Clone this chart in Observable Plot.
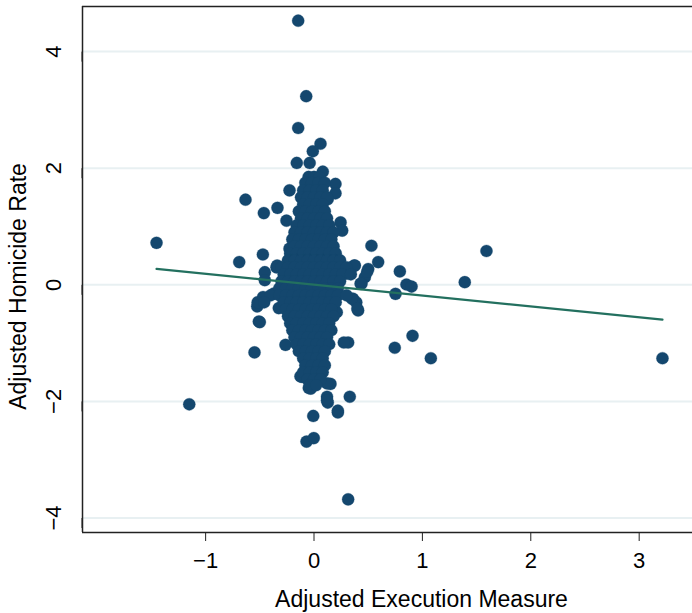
<!DOCTYPE html>
<html><head><meta charset="utf-8">
<script src="https://cdn.jsdelivr.net/npm/d3@7"></script>
<script src="https://cdn.jsdelivr.net/npm/@observablehq/plot@0.6"></script>
<style>body{margin:0;background:#fff} #chart{width:692px;height:613px}</style>
</head><body><div id="chart"></div>
<script>
const xTicks = [-1, 0, 1, 2, 3];
const yTicks = [-4, -2, 0, 2, 4];
const xDomain = [-2.136, 3.492];
const yDomain = [-4.249, 4.774];
const xTitle = "Adjusted Execution Measure";
const yTitle = "Adjusted Homicide Rate";
const fitIntercept = 0.003;
const fitSlope = -0.1865;

// scattered observations [execution measure, homicide rate]
const outliers = [
 [-0.146,4.53],[-0.072,3.235],[-0.146,2.69],[0.06,2.42],[-0.011,2.29],[-0.159,2.09],[-0.04,2.09],
 [0.081,1.94],[0.198,1.73],[0.198,1.57],[0.127,1.47],[-0.632,1.46],[-0.226,1.62],[-0.463,1.23],
 [-0.337,1.32],[-0.254,1.10],[0.245,1.07],[0.26,0.93],[-1.453,0.72],[-0.69,0.39],[-0.472,0.52],
 [-0.454,0.216],[-0.454,0.08],[-0.226,0.62],[-0.346,0.30],[0.53,0.67],[0.592,0.39],[0.377,0.33],
 [0.30,0.19],[0.50,0.27],[0.469,0.13],[0.438,0.017],[0.792,0.23],[1.591,0.58],[1.391,0.045],
 [0.853,0.005],[0.90,-0.03],[0.752,-0.155],[0.36,-0.24],[0.39,-0.30],[0.407,-0.44],[0.315,-0.99],
 [0.745,-1.08],[0.909,-0.875],[1.078,-1.26],[3.215,-1.26],[0.33,-1.92],[0.315,-3.68],[-0.509,-0.63],
 [-0.549,-1.16],[-1.151,-2.05],[-0.007,-2.25],[-0.069,-2.69],[-0.002,-2.63],[0.22,-2.19],[0.127,-2.02],
 [0.12,-1.92],[-0.263,-1.03],[-0.125,-1.57],[-0.048,-1.77],[0.152,-1.70],[0.275,-0.99],[-0.524,-0.37],
 [-0.325,-0.40],[-0.52,-0.30],[-0.47,-0.21],[-0.37,-0.15],[-0.50,-0.64],[-0.34,0.33],[0.37,0.33],
 [0.21,0.33],[0.49,0.22],[0.43,0.02],[0.35,-0.24],[0.40,-0.41],[0.21,-0.47],[-0.11,-1.58],
 [-0.03,-1.78],[0.12,-1.69],[0.22,-2.16],[0.12,-1.98]
];

// dense cluster, upper half
const coreUpper = [
 [-0.05,1.85],[0.0,1.85],[0.05,1.85],
 [-0.08,1.75],[-0.02,1.75],[0.04,1.75],[0.10,1.75],
 [-0.10,1.62],[-0.04,1.62],[0.02,1.62],[0.08,1.62],
 [-0.12,1.50],[-0.06,1.50],[0.0,1.50],[0.06,1.50],[0.12,1.50],
 [-0.10,1.38],[-0.04,1.38],[0.02,1.38],[0.08,1.38],
 [-0.14,1.26],[-0.08,1.26],[-0.02,1.26],[0.04,1.26],[0.10,1.26],
 [-0.12,1.14],[-0.06,1.14],[0.0,1.14],[0.06,1.14],[0.12,1.14],
 [-0.16,1.02],[-0.10,1.02],[-0.04,1.02],[0.02,1.02],[0.08,1.02],[0.14,1.02],
 [-0.18,0.90],[-0.12,0.90],[-0.06,0.90],[0.0,0.90],[0.06,0.90],[0.12,0.90],[0.18,0.90],
 [-0.20,0.78],[-0.14,0.78],[-0.08,0.78],[-0.02,0.78],[0.04,0.78],[0.10,0.78],[0.16,0.78],
 [-0.18,0.66],[-0.12,0.66],[-0.06,0.66],[0.0,0.66],[0.06,0.66],[0.12,0.66],[0.18,0.66],
 [-0.22,0.54],[-0.16,0.54],[-0.10,0.54],[-0.04,0.54],[0.02,0.54],[0.08,0.54],[0.14,0.54],[0.20,0.54],
 [-0.24,0.42],[-0.18,0.42],[-0.12,0.42],[-0.06,0.42],[0.0,0.42],[0.06,0.42],[0.12,0.42],[0.18,0.42],[0.24,0.42],
 [-0.30,0.30],[-0.24,0.30],[-0.18,0.30],[-0.12,0.30],[-0.06,0.30],[0.0,0.30],[0.06,0.30],[0.12,0.30],[0.18,0.30],[0.24,0.30],[0.30,0.30],
 [-0.28,0.18],[-0.22,0.18],[-0.16,0.18],[-0.10,0.18],[-0.04,0.18],[0.02,0.18],[0.08,0.18],[0.14,0.18],[0.20,0.18],[0.26,0.18],[0.34,0.18],
 [-0.30,0.06],[-0.24,0.06],[-0.18,0.06],[-0.12,0.06],[-0.06,0.06],[0.0,0.06],[0.06,0.06],[0.12,0.06],[0.18,0.06],[0.24,0.06]
];

// dense cluster, lower half
const coreLower = [
 [-0.32,-0.06],[-0.26,-0.06],[-0.20,-0.06],[-0.14,-0.06],[-0.08,-0.06],[-0.02,-0.06],[0.04,-0.06],[0.10,-0.06],[0.16,-0.06],[0.22,-0.06],
 [-0.40,-0.18],[-0.32,-0.18],[-0.26,-0.18],[-0.20,-0.18],[-0.14,-0.18],[-0.08,-0.18],[-0.02,-0.18],[0.04,-0.18],[0.10,-0.18],[0.16,-0.18],[0.22,-0.18],[0.30,-0.18],
 [-0.46,-0.30],[-0.28,-0.30],[-0.22,-0.30],[-0.16,-0.30],[-0.10,-0.30],[-0.04,-0.30],[0.02,-0.30],[0.08,-0.30],[0.14,-0.30],[0.20,-0.30],
 [-0.26,-0.42],[-0.20,-0.42],[-0.14,-0.42],[-0.08,-0.42],[-0.02,-0.42],[0.04,-0.42],[0.10,-0.42],[0.16,-0.42],
 [-0.24,-0.54],[-0.18,-0.54],[-0.12,-0.54],[-0.06,-0.54],[0.0,-0.54],[0.06,-0.54],[0.12,-0.54],[0.18,-0.54],
 [-0.22,-0.66],[-0.16,-0.66],[-0.10,-0.66],[-0.04,-0.66],[0.02,-0.66],[0.08,-0.66],[0.14,-0.66],
 [-0.20,-0.78],[-0.14,-0.78],[-0.08,-0.78],[-0.02,-0.78],[0.04,-0.78],[0.10,-0.78],[0.16,-0.78],
 [-0.18,-0.90],[-0.12,-0.90],[-0.06,-0.90],[0.0,-0.90],[0.06,-0.90],[0.12,-0.90],
 [-0.16,-1.02],[-0.10,-1.02],[-0.04,-1.02],[0.02,-1.02],[0.08,-1.02],[0.14,-1.02],
 [-0.14,-1.14],[-0.08,-1.14],[-0.02,-1.14],[0.04,-1.14],[0.10,-1.14],
 [-0.10,-1.26],[-0.04,-1.26],[0.02,-1.26],[0.08,-1.26],
 [-0.08,-1.38],[-0.02,-1.38],[0.04,-1.38],[0.10,-1.38],
 [-0.10,-1.50],[-0.04,-1.50],[0.02,-1.50],[0.08,-1.50],
 [-0.06,-1.62],[0.0,-1.62],[0.06,-1.62],
 [-0.04,-1.72],[0.02,-1.72]
];

const points = [...outliers, ...coreUpper, ...coreLower].map(([x, y]) => ({x, y}));
const [xmin, xmax] = d3.extent(points, d => d.x);
const fit = [xmin, xmax].map(x => ({x, y: fitIntercept + fitSlope * x}));

const font = '"Liberation Sans", Arial, Helvetica, sans-serif';
const axisColor = "#222";

const chart = Plot.plot({
  width: 692, height: 613,
  marginLeft: 82, marginRight: 0, marginTop: 6, marginBottom: 81,
  style: {fontFamily: font, fontSize: "22px", color: "#000", background: "#fff"},
  x: {domain: xDomain},
  y: {domain: yDomain},
  marks: [
    Plot.ruleY(yTicks, {stroke: "#e8f0f2", strokeWidth: 2}),
    Plot.dot(points, {x: "x", y: "y", r: 6.1, fill: "#14476e", stroke: "#14476e", strokeWidth: 0.3}),
    Plot.line(fit, {x: "x", y: "y", stroke: "#23705f", strokeWidth: 2.2}),
    Plot.ruleX([xDomain[0]], {stroke: axisColor, strokeWidth: 1.5}),
    Plot.ruleY([yDomain[0], yDomain[1]], {stroke: axisColor, strokeWidth: 1.5}),
    Plot.axisX({ticks: xTicks, tickSize: 9, tickPadding: 11, label: null, fontSize: 22, stroke: axisColor, tickFormat: d3.format("d")}),
    Plot.axisY({ticks: yTicks, tickSize: 10, tickPadding: 19, rotate: -90, textAnchor: "middle", label: null, fontSize: 22, stroke: axisColor, tickFormat: d3.format("d")}),
    Plot.text([xTitle], {frameAnchor: "bottom", textAnchor: "middle", lineAnchor: "middle", dx: 34, dy: 67, fontSize: 23, fill: "#000"}),
    Plot.text([yTitle], {frameAnchor: "left", rotate: -90, textAnchor: "middle", lineAnchor: "middle", dx: -64, dy: 17, fontSize: 23, fill: "#000"})
  ]
});
document.getElementById("chart").appendChild(chart);
</script>
</body></html>
